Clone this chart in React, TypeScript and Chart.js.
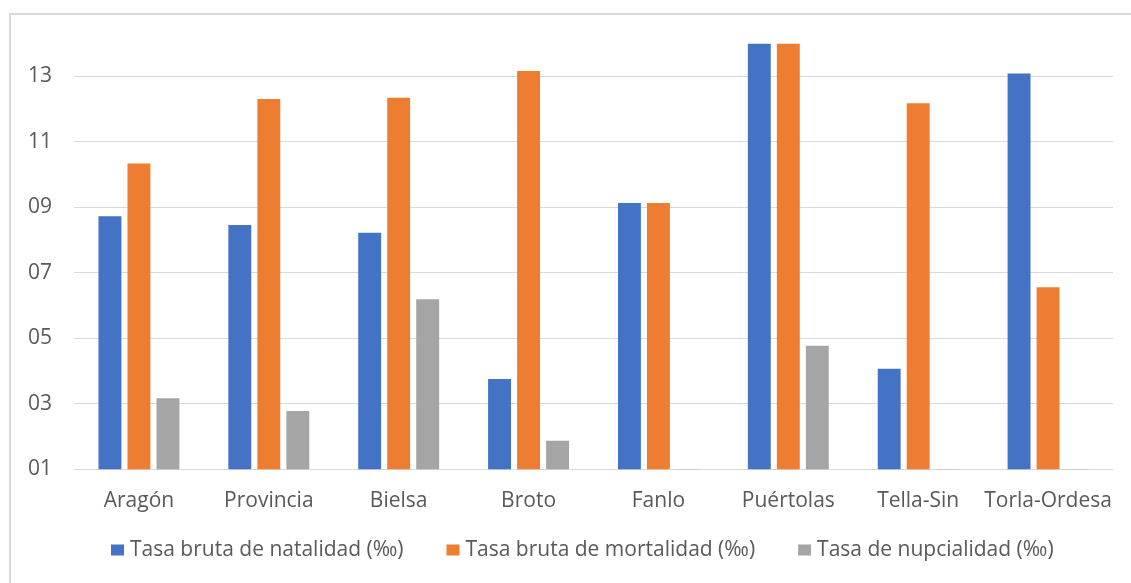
import React, { useEffect, useRef } from "react";
import { Chart, registerables } from "chart.js";

Chart.register(...registerables);

const categories = ["Aragón", "Provincia", "Bielsa", "Broto", "Fanlo", "Puértolas", "Tella-Sin", "Torla-Ordesa"];
const natalidad = [8.73, 8.46, 8.22, 3.76, 9.13, 14.0, 4.07, 13.09];
const mortalidad = [10.34, 12.31, 12.35, 13.16, 9.13, 14.0, 12.18, 6.56];
const nupcialidad = [3.17, 2.78, 6.19, 1.87, 1.0, 4.77, 1.0, 1.0];
const seriesLabels = [
  "Tasa bruta de natalidad (‰)",
  "Tasa bruta de mortalidad (‰)",
  "Tasa de nupcialidad (‰)",
];
const seriesColors = ["#4472C4", "#ED7D31", "#A5A5A5"];
const yTicks = [1, 3, 5, 7, 9, 11, 13];
const yMin = 1;
const yMax = 14;

const W = 1131;
const H = 583;
const PLOT_LEFT = 74;
const PLOT_BOTTOM = 469.3;
const PAD_LEFT = 10;
const PAD_BOTTOM = 50;
const FONT = "'Open Sans', 'Noto Sans', sans-serif";
const TEXT_COLOR = "#595959";

const framePlugin = {
  id: "frame",
  beforeDraw(chart: any) {
    const ctx = chart.ctx;
    ctx.save();
    ctx.fillStyle = "#ffffff";
    ctx.fillRect(0, 0, chart.width, chart.height);
    ctx.strokeStyle = "#d9d9d9";
    ctx.lineWidth = 2;
    ctx.beginPath();
    ctx.moveTo(10, chart.height);
    ctx.lineTo(10, 14);
    ctx.lineTo(chart.width, 14);
    ctx.stroke();
    ctx.restore();
  },
};

const legendPlugin = {
  id: "customLegend",
  afterDraw(chart: any) {
    const ctx = chart.ctx;
    ctx.save();
    ctx.font = `21px ${FONT}`;
    ctx.textBaseline = "middle";
    ctx.textAlign = "left";
    const cy = 550;
    let x = 111;
    const boxW = 13;
    const boxH = 11;
    const gap = 6;
    const spacing = 43;
    chart.data.datasets.forEach((ds: any) => {
      ctx.fillStyle = ds.backgroundColor;
      ctx.fillRect(x, cy - boxH / 2, boxW, boxH);
      ctx.fillStyle = TEXT_COLOR;
      const tx = x + boxW + gap;
      ctx.fillText(ds.label, tx, cy);
      x = tx + ctx.measureText(ds.label).width + spacing;
    });
    ctx.restore();
  },
};

export default function App() {
  const ref = useRef<HTMLCanvasElement | null>(null);
  useEffect(() => {
    if (!ref.current) return;
    const chart = new Chart(ref.current, {
      type: "bar",
      data: {
        labels: categories,
        datasets: [
          { label: seriesLabels[0], data: natalidad, backgroundColor: seriesColors[0] },
          { label: seriesLabels[1], data: mortalidad, backgroundColor: seriesColors[1] },
          { label: seriesLabels[2], data: nupcialidad, backgroundColor: seriesColors[2] },
        ],
      },
      options: {
        responsive: false,
        animation: false,
        datasets: { bar: { categoryPercentage: 0.67, barPercentage: 0.79 } },
        layout: { padding: { left: PAD_LEFT, right: 18, top: 43.6, bottom: PAD_BOTTOM } },
        plugins: {
          tooltip: { enabled: false },
          legend: { display: false },
        },
        scales: {
          x: {
            grid: { display: false },
            border: { display: false },
            ticks: { color: TEXT_COLOR, padding: 11, font: { family: FONT, size: 21 }, maxRotation: 0, autoSkip: false },
            afterFit(axis: any) {
              axis.height = H - PAD_BOTTOM - PLOT_BOTTOM;
            },
          },
          y: {
            min: yMin,
            max: yMax,
            grid: { color: "#d9d9d9", drawTicks: false, lineWidth: 1 },
            border: { display: false },
            afterBuildTicks(axis: any) {
              axis.ticks = yTicks.map((v) => ({ value: v }));
            },
            ticks: {
              color: TEXT_COLOR,
              padding: 22,
              font: { family: FONT, size: 21 },
              callback: (v: any) => String(v).padStart(2, "0"),
            },
            afterFit(axis: any) {
              axis.width = PLOT_LEFT - PAD_LEFT;
            },
          },
        },
      },
      plugins: [framePlugin, legendPlugin],
    });
    return () => chart.destroy();
  }, []);
  return (
    <div style={{ position: "fixed", left: 0, top: 0, width: W, height: H }}>
      <canvas ref={ref} width={W} height={H} />
    </div>
  );
}
